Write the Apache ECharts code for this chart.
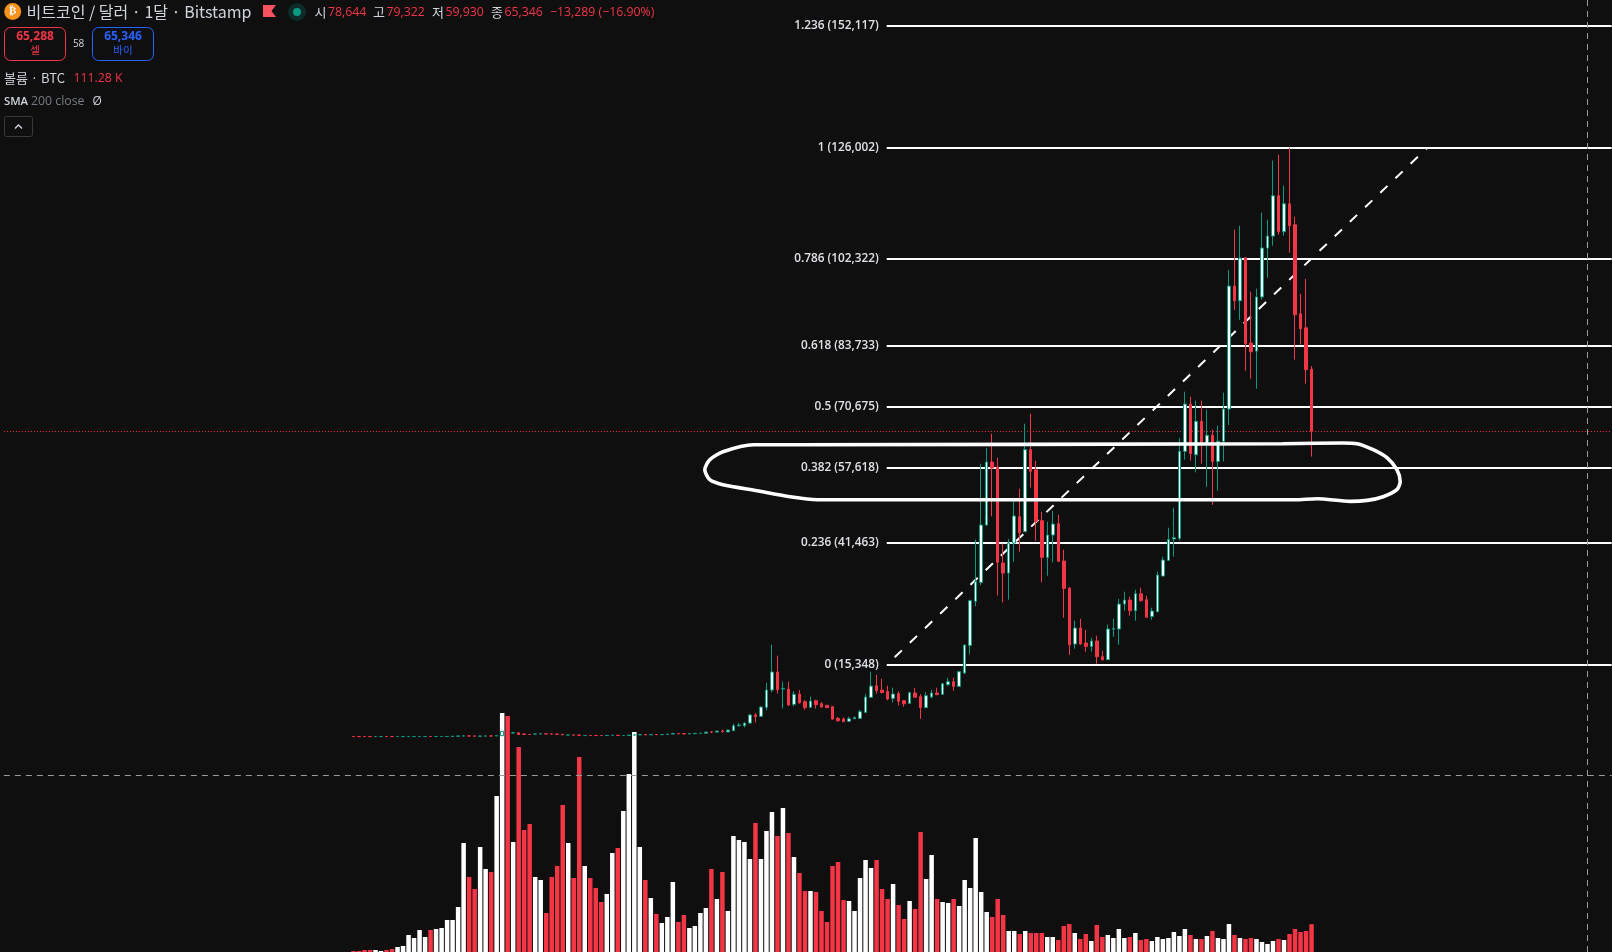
<!DOCTYPE html>
<html><head><meta charset="utf-8">
<style>html,body{margin:0;padding:0;background:#0f0f0f}#c{width:1612px;height:952px}</style>
<script src="https://cdn.jsdelivr.net/npm/echarts@6/dist/echarts.min.js"></script>
</head><body><div id="c"></div>
<script>
// monthly candles Aug 2011 .. Feb 2026: [open, close, low, high]
const ohlc = [
[13,8,5,13],[8,5,3,9],[5,3,2,6],[3,2.8,2,4],[2.8,4.7,2.5,7],[4.7,5.5,4,7],[5.5,4.9,4,6],[4.9,4.8,4,5.5],[4.8,5,4.6,5.5],[5,6.6,4.9,7],
[6.6,9,6.5,9.5],[9,10,8,15],[10,12,9,13],[12.5,12.6,10,13.5],[12.6,10,9,14],[10,13,10,14],[13,20,13,20],[20,30,20,31],[30,90,30,95],[90,135,80,140],
[135,140,70,266],[140,129,85,150],[129,95,90,130],[95,106,65,110],[106,140,95,150],[140,127,115,145],[127,205,125,215],[205,1130,190,1163],[1130,750,700,1160],[750,815,710,1050],
[800,440,410,840],[550,470,440,700],[450,440,350,540],[530,560,430,620],[560,590,540,670],[590,570,520,610],[570,540,450,600],[540,500,470,620],[500,380,370,520],[330,350,290,420],
[350,320,310,390],[320,315,280,350],[215,235,150,330],[255,240,210,320],[240,236,220,300],[236,230,210,260],[230,265,215,285],[265,285,240,300],[285,230,200,295],[230,236,225,250],
[236,316,235,330],[316,378,290,500],[378,430,360,470],[430,370,350,450],[370,435,365,440],[435,415,400,445],[415,450,400,470],[450,530,440,540],[530,670,520,780],[670,620,450,770],
[620,575,540,630],[575,610,560,620],[610,700,600,740],[700,730,630,760],[740,960,730,980],[1000,960,750,1200],[960,1190,930,1230],[1190,1080,835,1477],[1000,1400,950,1420],[1260,2330,1260,2760],
[2330,2480,2100,2980],[2333,2900,1980,3050],[2900,4620,2750,4900],[4620,4260,3040,5040],[4330,6330,4250,6470],[6260,9970,5620,11540],[9970,13820,9470,19670],[13820,10040,9180,17320],[10180,10310,6040,11750],[10180,6760,6610,11750],
[6900,9040,6470,9750],[9110,7260,7040,9970],[7470,6190,5760,7830],[6260,7610,6190,8540],[7680,6830,5970,7900],[7040,6330,6190,7400],[6690,6190,6120,6750],[6400,3760,3620,6540],[3900,3400,3190,4190],[3760,3190,3190,4120],
[3260,3820,3190,4260],[3810,4100,3750,4300],[3900,5330,3850,5760],[5190,8470,5120,9110],[8400,10820,8260,13890],[10890,9820,9180,13250],[9970,9400,9330,12400],[9680,8040,7760,10890],[8180,9110,7260,10470],[9180,7540,6610,9680],
[7680,7040,6400,7830],[7110,9400,7040,9610],[9330,8400,8330,10400],[8540,6190,3830,9110],[6190,8760,6190,9540],[8470,9330,8190,9970],[9330,8970,8900,10470],[9040,11320,8970,11400],[11110,11750,10900,12610],[11750,10750,9820,12610],
[10750,13890,10610,14100],[13600,19600,13390,19670],[19520,29090,17600,29300],[28950,33150,27880,42150],[33000,45290,32370,58400],[45290,58760,45100,61800],[58760,57480,47140,64840],[57700,37300,30170,59700],[37150,35010,28730,41300],[35010,41430,29300,42300],
[41430,47210,37430,50700],[47070,43640,39580,53060],[43860,61420,43860,66970],[61420,56780,53280,69120],[57130,46070,41930,59050],[46210,38360,33010,48130],[38360,43140,34440,45990],[43140,45490,37290,48340],[45570,37510,37500,47500],[37570,31720,25450,39990],
[31790,19660,17530,32000],[19810,23240,18820,24810],[23240,19810,19660,25240],[20030,19310,18170,22880],[19310,20460,18170,21170],[20460,17100,15610,21600],[17100,16460,16250,18380],[16460,23020,16460,23950],[23000,23150,21380,25240],[23020,28370,19660,29500],
[28370,29220,26950,31000],[29220,26950,25880,29940],[26950,30590,24810,31440],[30590,29090,28870,31870],[29300,25520,25450,30150],[25730,26870,25020,27580],[26720,34570,26720,35300],[34360,37790,34300,38500],[37720,42210,37650,44700],[42280,42580,38500,48990],
[42430,61050,41930,63900],[61050,71180,59270,73820],[71180,60560,59060,72760],[60330,67470,56560,71880],[67470,62480,58420,71880],[62480,64480,53490,69970],[64480,58900,49620,65680],[58900,63190,52620,66540],[63190,70110,58900,73610],[70110,96430,66750,99930],
[96430,93290,91360,108490],[93290,102430,89220,109340],[102500,84100,78320,102500],[84240,82380,76610,95240],[82520,94100,74460,95860],[94100,104560,93530,112140],[104560,107130,98230,110630],[107130,115760,105080,123270],[115760,108060,107430,124560],[108060,114050,107220,117920],
[114050,109340,103570,126002],[109550,90290,80670,111270],[90510,87300,83900,94790],[87510,78520,75540,97990],[78644,65346,59930,79322]
];
// volume, thousands of BTC
const volume = [
4,4,8,8,8,4,8,12,20,24,68,56,88,60,88,92,96,128,128,180,
436,300,252,420,332,320,624,956,944,440,820,488,512,300,288,156,300,344,588,436,
296,780,344,296,256,200,232,396,416,564,712,880,420,288,216,152,116,140,280,120,
148,96,104,156,176,332,212,320,164,464,448,440,372,516,372,484,560,464,576,476,
380,316,244,244,240,164,120,344,360,208,204,164,296,368,336,368,252,212,272,188,
132,204,172,480,292,388,212,200,196,212,184,288,256,456,240,160,140,212,148,84,
84,72,84,76,76,76,60,60,48,104,112,76,52,72,44,108,60,68,56,92,
56,60,76,48,52,44,60,52,56,80,64,92,68,52,52,64,84,56,52,112,
68,56,52,56,52,40,32,44,52,48,72,92,80,84,111.28
];
const fibLevels = [152117,126002,102322,83733,70675,57618,41463,15348];
const fibLabels = ['1.236 (152,117)','1 (126,002)','0.786 (102,322)','0.618 (83,733)','0.5 (70,675)','0.382 (57,618)','0.236 (41,463)','0 (15,348)'];
const fibStartBar = 96.84;
const trendBars = [96.84,195];
const trendPrices = [15348,126002];
const lastPrice = 65346;
const crossPrice = -8220;
const crossBar = 224.1;
// hand-drawn loop round the 0.382 level: bar position and price
const loopBars = [168.8,179.7,182.3,185.2,187.7,189.5,190.1,189.5,187,184.1,181,175,171,84.2,79.3,73.3,67.1,64.7,63.8,64.7,67.1,72.6,81.1,168.8];
const loopPrices = [62690,62840,62690,61410,59700,57130,54620,52850,51350,50560,50340,50920,50700,50700,51350,52630,53910,54980,57130,59270,60980,62480,62480,62690];

const RED='#f23645', TEAL='#089981', UP='#ffffff', BG='#0f0f0f';
const padL=63, padR=54, blank=['-','-','-','-'];
const cats=[]; for(let i=-padL;i<ohlc.length+padR;i++) cats.push(String(i));
const candleData=Array(padL).fill(blank).concat(ohlc).concat(Array(padR).fill(blank));
const volData=Array(padL).fill('-').concat(volume.map((v,i)=>({value:v,itemStyle:{color:ohlc[i][1]>=ohlc[i][0]?UP:RED}}))).concat(Array(padR).fill('-'));
const barStep=5.506;
const barEnd=ohlc.length+padR-0.5;

const F="'Open Sans','Noto Sans CJK KR',sans-serif", K="'Noto Sans CJK KR','Noto Sans',sans-serif";
const T=(x,y,text,fill,font,align)=>({type:'text',x,y,z:50,silent:true,style:{text,fill,font,align:align||'left',verticalAlign:'middle'}});
const graphic=[
 {type:'circle',z:50,silent:true,shape:{cx:12.7,cy:11.5,r:8.5},style:{fill:'#f7931a'}},
 T(12.7,11.5,'₿','#ffffff',"bold 11px 'DejaVu Sans'",'center'),
 T(26.5,11.5,'비트코인 / 달러 · 1달 · Bitstamp','#d1d4dc','16px '+K),
 {type:'polygon',z:50,silent:true,shape:{points:[[263,5],[276,5],[271.5,11],[276,17],[263,17]]},style:{fill:'#f7525f'}},
 {type:'circle',z:50,silent:true,shape:{cx:297,cy:12,r:9},style:{fill:'#0e2b2a'}},
 {type:'circle',z:50,silent:true,shape:{cx:297,cy:12,r:4},style:{fill:TEAL}},
 T(314.5,12,'시','#d1d4dc','13px '+K),T(328,12,'78,644',RED,'12.3px '+F),
 T(373,12,'고','#d1d4dc','13px '+K),T(386.5,12,'79,322',RED,'12.3px '+F),
 T(432,12,'저','#d1d4dc','13px '+K),T(445.5,12,'59,930',RED,'12.3px '+F),
 T(491,12,'종','#d1d4dc','13px '+K),T(504.5,12,'65,346',RED,'12.3px '+F),
 T(550,12,'−13,289 (−16.90%)',RED,'12.3px '+F),
 {type:'rect',z:50,silent:true,shape:{x:4.5,y:27.5,width:61,height:33,r:6},style:{fill:BG,stroke:RED,lineWidth:1}},
 T(35,37,'65,288',RED,'bold 12px '+F,'center'),T(35,50.5,'셀',RED,'10.5px '+K,'center'),
 T(78.6,44,'58','#d1d4dc','10px '+F,'center'),
 {type:'rect',z:50,silent:true,shape:{x:92.5,y:27.5,width:61,height:33,r:6},style:{fill:BG,stroke:'#2962ff',lineWidth:1}},
 T(123,37,'65,346','#2962ff','bold 12px '+F,'center'),T(123,50.5,'바이','#2962ff','10.5px '+K,'center'),
 T(4,78,'볼륨 · BTC','#d1d4dc','13px '+K),T(73.5,78,'111.28 K',RED,'12.3px '+F),
 T(4,101.5,'SMA','#d1d4dc','600 11.3px '+F),T(31,101.5,'200 close','#787b86','12.3px '+F),T(92.5,101.5,'Ø','#d1d4dc','12px '+F),
 {type:'rect',z:50,silent:true,shape:{x:4.5,y:116.5,width:28,height:20,r:2},style:{fill:BG,stroke:'#3a3a3a',lineWidth:1}},
 {type:'polyline',z:50,silent:true,shape:{points:[[15,128.5],[18.5,125],[22,128.5]]},style:{fill:null,stroke:'#d1d4dc',lineWidth:1.4}}
];

const fibItems=fibLevels.map((v,i)=>[
 {coord:[fibStartBar,v],label:{formatter:fibLabels[i]}},
 {coord:[barEnd,v]}
]);
const chart=echarts.init(document.getElementById('c'),null,{renderer:'canvas'});
chart.setOption({
 animation:false,
 backgroundColor:BG,
 graphic,
 grid:{left:353.5-barStep*(padL+0.5),top:0,width:barStep*cats.length,height:952,containLabel:false},
 xAxis:[
  {type:'category',data:cats,show:false,boundaryGap:true},
  {type:'value',min:-padL-0.5,max:barEnd,show:false,splitLine:{show:false}}
 ],
 yAxis:[
  {type:'value',min:-46104,max:157660,show:false,splitLine:{show:false}},
  {type:'value',min:0,max:3808,show:false,splitLine:{show:false}}
 ],
 series:[
  {name:'볼륨',type:'bar',xAxisIndex:0,yAxisIndex:1,data:volData,barWidth:4.5,z:2,silent:true},
  {name:'Fib',type:'line',xAxisIndex:1,yAxisIndex:0,z:5,symbol:'none',silent:true,
   data:trendBars.map((b,i)=>[b,trendPrices[i]]),
   lineStyle:{color:'#ffffff',width:2,type:[10,11],dashOffset:10},
   markLine:{silent:true,symbol:['none','none'],animation:false,precision:5,
    lineStyle:{color:'#ffffff',width:2,type:'solid'},
    label:{show:true,position:'start',distance:8,color:'#dfe1e6',fontFamily:'Open Sans',fontWeight:600,fontSize:11.8},
    data:[
     ...fibItems,
     {yAxis:lastPrice,lineStyle:{color:RED,width:1,type:[1,2]},label:{show:false}},
     {yAxis:crossPrice,lineStyle:{color:'#9a9a9a',width:1,type:[6,5]},label:{show:false}},
     {xAxis:crossBar,lineStyle:{color:'#9a9a9a',width:1,type:[6,5]},label:{show:false}}
    ]}
  },
  {name:'BTC',type:'candlestick',xAxisIndex:0,yAxisIndex:0,data:candleData,barWidth:3,z:10,silent:true,
   itemStyle:{color:UP,color0:RED,borderColor:TEAL,borderColor0:RED,borderWidth:1}},
  {name:'Loop',type:'line',xAxisIndex:1,yAxisIndex:0,z:20,symbol:'none',silent:true,smooth:0.25,
   data:loopBars.map((b,i)=>[b,loopPrices[i]]),
   lineStyle:{color:'#ffffff',width:3.6,cap:'round',join:'round'}}
 ]
});
</script></body></html>
